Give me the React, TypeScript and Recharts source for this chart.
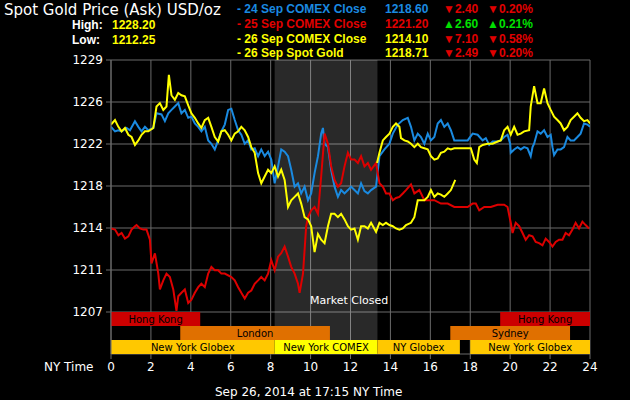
import React from 'react';
import { ComposedChart, Line, XAxis, YAxis, CartesianGrid, ReferenceArea } from 'recharts';

// hours (NY time) and spot price readings, [hour, price]
const sep24: [number, number][] = [
  [0, 1223.4], [0.2, 1223.0], [0.37, 1223.1], [0.53, 1223.0], [0.78, 1223.3], [0.95, 1223.1], [1.2, 1223.9],
  [1.37, 1223.4], [1.53, 1223.0], [1.7, 1223.4], [1.87, 1223.1], [2.12, 1223.3], [2.28, 1224.6], [2.53, 1224.5],
  [2.7, 1223.9], [2.87, 1224.6], [3.03, 1224.9], [3.2, 1225.2], [3.37, 1225.5], [3.53, 1224.6], [3.7, 1224.9],
  [3.87, 1224.2], [4.03, 1224.3], [4.2, 1223.7], [4.37, 1223.4], [4.53, 1223.0], [4.7, 1223.4], [4.87, 1222.2],
  [5.03, 1221.9], [5.2, 1221.4], [5.37, 1222.2], [5.53, 1223.0], [5.7, 1223.6], [5.87, 1224.9], [6.03, 1225.0],
  [6.2, 1224.0], [6.37, 1223.1], [6.53, 1222.7], [6.7, 1221.9], [6.87, 1222.2], [7.03, 1221.4], [7.2, 1221.5],
  [7.37, 1220.8], [7.53, 1221.4], [7.7, 1220.8], [7.87, 1221.2], [8.03, 1220.5], [8.2, 1218.4], [8.37, 1219.9],
  [8.53, 1221.4], [8.7, 1221.2], [8.87, 1220.8], [9.03, 1219.6], [9.2, 1218.1], [9.37, 1218.4], [9.53, 1217.5],
  [9.7, 1218.1], [9.87, 1216.9], [10.03, 1217.5], [10.2, 1219.3], [10.37, 1220.8], [10.53, 1222.8], [10.62, 1223.3],
  [10.7, 1221.9], [10.87, 1221.6], [11.03, 1219.6], [11.2, 1218.1], [11.37, 1217.2], [11.53, 1217.8], [11.7, 1217.5],
  [11.87, 1217.8], [12.03, 1218.1], [12.2, 1217.8], [12.37, 1217.5], [12.53, 1218.4], [12.7, 1217.7], [12.87, 1217.5],
  [13.03, 1217.8], [13.28, 1218.1], [13.45, 1220.8], [13.7, 1221.4], [13.95, 1221.9], [14.12, 1222.8], [14.37, 1223.6],
  [14.62, 1224.0], [14.87, 1224.2], [15.03, 1223.4], [15.2, 1222.2], [15.37, 1222.8], [15.53, 1222.5], [15.7, 1221.9],
  [15.87, 1222.8], [16.03, 1222.2], [16.2, 1222.5], [16.37, 1223.7], [16.53, 1224.0], [16.7, 1223.4], [16.87, 1223.7],
  [17.03, 1223.1], [17.2, 1222.2], [17.53, 1222.2], [17.87, 1222.2], [18.12, 1222.8], [18.37, 1222.7], [18.62, 1222.2],
  [18.78, 1222.4], [18.95, 1221.8], [19.12, 1222.1], [19.37, 1222.1], [19.53, 1222.2], [19.7, 1222.5], [19.87, 1222.7],
  [20.0, 1221.9], [20.03, 1221.1], [20.2, 1221.4], [20.37, 1221.6], [20.53, 1221.4], [20.7, 1221.6], [20.87, 1221.5],
  [21.03, 1220.8], [21.12, 1221.6], [21.2, 1221.9], [21.37, 1223.0], [21.53, 1222.8], [21.7, 1223.1], [21.87, 1222.5],
  [22.03, 1222.7], [22.12, 1221.6], [22.2, 1220.9], [22.37, 1221.4], [22.53, 1221.4], [22.7, 1221.6], [22.87, 1222.5],
  [23.03, 1222.2], [23.2, 1222.2], [23.37, 1222.5], [23.53, 1222.8], [23.7, 1223.7], [23.87, 1223.6], [24, 1223.4],
];

const sep25: [number, number][] = [
  [0, 1214.4], [0.2, 1214.3], [0.37, 1213.8], [0.53, 1214.0], [0.7, 1213.5], [0.87, 1213.7], [1.03, 1214.3],
  [1.2, 1214.6], [1.28, 1214.7], [1.45, 1214.4], [1.62, 1214.3], [1.78, 1214.3], [1.95, 1213.4], [2.03, 1211.3],
  [2.2, 1212.2], [2.37, 1210.4], [2.45, 1209.0], [2.62, 1209.8], [2.78, 1210.4], [2.95, 1210.1], [3.12, 1209.0],
  [3.28, 1207.1], [3.37, 1208.4], [3.53, 1208.7], [3.7, 1209.0], [3.87, 1207.8], [4.03, 1208.1], [4.2, 1208.7],
  [4.37, 1209.2], [4.53, 1209.5], [4.7, 1209.2], [4.87, 1210.4], [5.03, 1211.0], [5.2, 1210.7], [5.37, 1210.7],
  [5.53, 1210.4], [5.7, 1210.4], [6.03, 1210.1], [6.2, 1209.8], [6.37, 1209.2], [6.53, 1208.7], [6.7, 1208.2],
  [6.87, 1208.7], [7.03, 1208.9], [7.2, 1209.5], [7.37, 1209.8], [7.53, 1210.1], [7.7, 1209.8], [7.87, 1210.4],
  [8.03, 1211.6], [8.2, 1210.7], [8.37, 1211.9], [8.53, 1212.2], [8.7, 1212.8], [8.87, 1211.9], [9.03, 1211.0],
  [9.2, 1210.4], [9.37, 1209.5], [9.45, 1208.7], [9.62, 1210.4], [9.78, 1214.6], [9.87, 1215.4], [10.03, 1216.0],
  [10.2, 1216.3], [10.37, 1215.7], [10.53, 1219.0], [10.7, 1222.8], [10.87, 1221.9], [11.03, 1219.9], [11.2, 1218.7],
  [11.37, 1218.1], [11.53, 1218.4], [11.7, 1219.9], [11.87, 1221.1], [12.03, 1220.5], [12.2, 1220.5], [12.37, 1220.2],
  [12.53, 1220.8], [12.7, 1219.9], [12.87, 1220.2], [13.03, 1219.6], [13.28, 1220.2], [13.45, 1218.4], [13.62, 1218.1],
  [13.78, 1217.5], [13.95, 1217.5], [14.12, 1216.9], [14.28, 1217.1], [14.45, 1217.2], [14.62, 1217.5], [14.78, 1217.8],
  [15.03, 1218.3], [15.2, 1217.5], [15.45, 1217.8], [15.7, 1216.9], [15.95, 1216.9], [16.2, 1216.9], [16.53, 1216.6],
  [16.87, 1216.6], [17.2, 1216.3], [17.53, 1216.3], [17.87, 1216.3], [18.12, 1216.6], [18.28, 1216.6], [18.45, 1216.0],
  [18.7, 1216.3], [19.03, 1216.3], [19.37, 1216.5], [19.7, 1216.5], [19.87, 1216.3], [20.03, 1214.9], [20.12, 1214.0],
  [20.28, 1214.9], [20.45, 1214.6], [20.62, 1214.0], [20.78, 1213.4], [20.95, 1213.8], [21.12, 1213.7], [21.28, 1213.2],
  [21.45, 1213.1], [21.62, 1212.9], [21.78, 1213.5], [21.95, 1213.2], [22.12, 1212.8], [22.28, 1213.2], [22.45, 1213.4],
  [22.62, 1213.4], [22.78, 1214.0], [22.95, 1213.8], [23.12, 1214.3], [23.28, 1214.9], [23.45, 1214.4], [23.62, 1215.0],
  [23.78, 1214.7], [23.95, 1214.4],
];

const sep26: [number, number][] = [
  [0, 1223.6], [0.2, 1224.0], [0.37, 1223.4], [0.53, 1223.0], [0.7, 1223.3], [0.87, 1222.7], [1.03, 1222.5],
  [1.2, 1221.8], [1.37, 1222.2], [1.53, 1222.7], [1.7, 1223.0], [1.87, 1223.0], [2.12, 1223.3], [2.28, 1225.2],
  [2.45, 1225.5], [2.62, 1224.9], [2.78, 1225.2], [2.9, 1228.0], [3.03, 1226.2], [3.2, 1225.8], [3.37, 1226.4],
  [3.53, 1226.2], [3.7, 1226.1], [3.87, 1225.3], [4.03, 1224.6], [4.2, 1224.2], [4.37, 1223.7], [4.53, 1223.3],
  [4.7, 1224.0], [4.87, 1224.2], [5.03, 1223.4], [5.2, 1222.5], [5.37, 1222.1], [5.53, 1223.0], [5.7, 1223.1],
  [5.87, 1222.7], [6.03, 1222.2], [6.2, 1222.8], [6.37, 1223.0], [6.53, 1223.4], [6.7, 1223.1], [6.87, 1222.5],
  [7.03, 1221.6], [7.2, 1221.1], [7.37, 1219.3], [7.53, 1218.4], [7.7, 1219.0], [7.87, 1219.6], [8.03, 1219.3],
  [8.2, 1219.9], [8.37, 1219.0], [8.53, 1219.6], [8.7, 1218.7], [8.87, 1216.3], [9.03, 1216.9], [9.2, 1217.2],
  [9.37, 1217.5], [9.53, 1216.6], [9.7, 1215.4], [9.87, 1215.2], [10.03, 1214.6], [10.2, 1212.3], [10.37, 1213.9],
  [10.53, 1213.4], [10.7, 1213.1], [10.87, 1214.6], [11.03, 1215.7], [11.2, 1215.7], [11.37, 1215.4], [11.53, 1215.7],
  [11.7, 1215.2], [11.87, 1214.6], [12.03, 1214.3], [12.2, 1214.4], [12.37, 1213.4], [12.53, 1214.6], [12.7, 1214.6],
  [12.87, 1214.4], [13.03, 1214.9], [13.28, 1214.1], [13.45, 1214.9], [13.62, 1214.7], [13.78, 1214.9], [13.95, 1214.7],
  [14.12, 1214.6], [14.28, 1214.4], [14.45, 1214.3], [14.62, 1214.4], [14.78, 1214.7], [15.03, 1214.9], [15.2, 1215.4],
  [15.37, 1216.9], [15.53, 1216.9], [15.7, 1216.9], [15.87, 1217.2], [16.03, 1217.8], [16.2, 1217.2], [16.37, 1217.5],
  [16.53, 1217.4], [16.7, 1217.2], [16.87, 1217.5], [17.03, 1217.8], [17.25, 1218.7],
];

const sep26Late: [number, number][] = [
  [13.33, 1220.2], [13.45, 1221.1], [13.62, 1222.2], [13.78, 1222.5], [13.95, 1222.8], [14.12, 1223.4], [14.28, 1223.7],
  [14.45, 1223.4], [14.53, 1222.4], [14.7, 1222.2], [14.87, 1222.1], [15.03, 1221.9], [15.2, 1221.6], [15.37, 1221.9],
  [15.53, 1221.6], [15.7, 1221.5], [15.87, 1221.4], [16.03, 1220.8], [16.2, 1220.5], [16.37, 1220.6], [16.53, 1221.1],
  [16.7, 1221.2], [16.87, 1221.5], [17.03, 1221.4], [17.2, 1221.5], [17.53, 1221.5], [17.87, 1221.5], [18.03, 1221.5],
  [18.2, 1220.5], [18.33, 1220.2], [18.45, 1221.6], [18.62, 1221.8], [18.87, 1221.9], [19.12, 1221.9], [19.37, 1222.1],
  [19.53, 1222.2], [19.7, 1223.1], [19.87, 1223.4], [20.03, 1222.7], [20.2, 1223.4], [20.37, 1222.7], [20.53, 1222.8],
  [20.7, 1223.0], [20.95, 1223.1], [21.03, 1225.2], [21.2, 1227.0], [21.37, 1225.5], [21.53, 1225.5], [21.7, 1226.8],
  [21.87, 1225.5], [22.03, 1224.9], [22.2, 1224.3], [22.37, 1224.0], [22.53, 1223.7], [22.7, 1223.1], [22.87, 1223.4],
  [23.03, 1224.0], [23.2, 1224.3], [23.37, 1224.6], [23.53, 1224.2], [23.7, 1223.9], [23.87, 1224.0], [24, 1223.7],
];

const hourTicks = [0, 2, 4, 6, 8, 10, 12, 14, 16, 18, 20, 22, 24];
const priceTicks = [1207, 1210.72, 1214.44, 1218.16, 1221.88, 1225.6, 1229.32];

// trading sessions, hours NY time
const sessions = [
  { name: 'Hong Kong', from: 0, to: 4.47, kind: 'hk' },
  { name: 'Hong Kong', from: 19.5, to: 24, kind: 'hk' },
  { name: 'London', from: 3.47, to: 10.97, kind: 'eu' },
  { name: 'Sydney', from: 17, to: 23, kind: 'eu' },
  { name: 'New York Globex', from: 0, to: 8.2, kind: 'globex' },
  { name: 'New York COMEX', from: 8.2, to: 13.35, kind: 'comex' },
  { name: 'NY Globex', from: 13.35, to: 17.48, kind: 'globex' },
  { name: 'New York Globex', from: 18, to: 24, kind: 'globex' },
];
const closedFrom = 8.2;
const closedTo = 13.35;

const legendRows = [
  { label: '24 Sep COMEX Close', price: '1218.60', chg: '2.40', pct: '0.20%', up: false },
  { label: '25 Sep COMEX Close', price: '1221.20', chg: '2.60', pct: '0.21%', up: true },
  { label: '26 Sep COMEX Close', price: '1214.10', chg: '7.10', pct: '0.58%', up: false },
  { label: '26 Sep Spot Gold', price: '1218.71', chg: '2.49', pct: '0.20%', up: false },
];
const legendColors = ['#1a8ae0', '#e00000', '#ffff00', '#ffff00'];

const BLUE = '#1a8ae0';
const RED = '#dd0000';
const YELLOW = '#ffff00';
const GRID = '#6a6a6a';

const rowStyle: Record<string, { row: number; fill: string }> = {
  hk: { row: 0, fill: '#cc0000' },
  eu: { row: 1, fill: '#e07000' },
  globex: { row: 2, fill: '#ffc800' },
  comex: { row: 2, fill: '#ffff00' },
};

const yMin = 1203.28;
const band = 1.24;
const base = 1207;

const toPts = (arr: [number, number][]) => arr.map(([h, v]) => ({ h, v }));

const font = '"DejaVu Sans", sans-serif';
const boldFont = '"Liberation Sans", Arial, sans-serif';

const T: React.FC<{ x: number; y: number; color: string; size: number; bold?: boolean; f?: string; children: React.ReactNode }> = ({ x, y, color, size, bold, f, children }) => (
  <div
    style={{
      position: 'absolute', left: x, top: y - 10, height: 20, lineHeight: '20px', color, fontSize: size,
      fontWeight: bold ? 'bold' : 'normal', fontFamily: f || font, whiteSpace: 'nowrap',
    }}
  >
    {children}
  </div>
);

export default function App() {
  return (
    <div style={{ position: 'absolute', left: 0, top: 0, width: 630, height: 400, background: '#000', overflow: 'hidden' }}>
      <ComposedChart width={630} height={400} margin={{ top: 60, right: 40, left: 0, bottom: 0 }}>
        <CartesianGrid stroke={GRID} strokeWidth={1} />
        <XAxis
          dataKey="h" type="number" domain={[0, 24]} ticks={hourTicks} height={46}
          axisLine={false} tickLine={{ stroke: GRID }} tickSize={5} tickMargin={3}
          tick={{ fill: '#fff', fontSize: 12, fontFamily: font }} allowDataOverflow
        />
        <YAxis
          type="number" domain={[yMin, 1229.32]} ticks={priceTicks} width={111} allowDataOverflow
          axisLine={{ stroke: GRID }} tickLine={{ stroke: GRID }} tickSize={5} tickMargin={3}
          tickFormatter={(v: number) => String(Math.round(v))}
          tick={{ fill: '#fff', fontSize: 12, fontFamily: font }}
        />
        <ReferenceArea
          x1={closedFrom} x2={closedTo} y1={yMin + band} y2={1229.32}
          fill="#ffffff" fillOpacity={0.16} stroke="none"
        />
        {sessions.map((s, i) => {
          const st = rowStyle[s.kind];
          const top = base - st.row * band;
          return (
            <ReferenceArea
              key={i} x1={s.from} x2={s.to} y1={top - band} y2={top}
              fill={st.fill} fillOpacity={1} stroke="none"
              label={{ value: s.name, position: 'center', fill: '#000', fontSize: 10, fontFamily: font }}
            />
          );
        })}
        <Line data={toPts(sep24)} dataKey="v" stroke={BLUE} strokeWidth={2} dot={false} isAnimationActive={false} />
        <Line data={toPts(sep25)} dataKey="v" stroke={RED} strokeWidth={2} dot={false} isAnimationActive={false} />
        <Line data={toPts(sep26Late)} dataKey="v" stroke={YELLOW} strokeWidth={2} dot={false} isAnimationActive={false} />
        <Line data={toPts(sep26)} dataKey="v" stroke={YELLOW} strokeWidth={2} dot={false} isAnimationActive={false} />
      </ComposedChart>

      <T x={4} y={10} color="#fff" size={15}>Spot Gold Price (Ask) USD/oz</T>
      <T x={72} y={25} color="#fff" size={12} bold f={boldFont}>High:</T>
      <T x={112} y={25} color={YELLOW} size={12} bold f={boldFont}>1228.20</T>
      <T x={72} y={40} color="#fff" size={12} bold f={boldFont}>Low:</T>
      <T x={112} y={40} color={YELLOW} size={12} bold f={boldFont}>1212.25</T>
      {legendRows.map((r, i) => {
        const y = 9 + i * 14.8;
        const chgColor = r.up ? '#00e000' : '#e00000';
        const arrow = r.up ? '\u25B2' : '\u25BC';
        return (
          <React.Fragment key={i}>
            <T x={237} y={y} color={legendColors[i]} size={12} bold f={boldFont}>- {r.label}</T>
            <T x={385} y={y} color={legendColors[i]} size={12} bold f={boldFont}>{r.price}</T>
            <T x={443} y={y} color={chgColor} size={12} bold f={boldFont}>{arrow}{r.chg}</T>
            <T x={487} y={y} color={chgColor} size={12} bold f={boldFont}>{arrow}{r.pct}</T>
          </React.Fragment>
        );
      })}
      <T x={310} y={301} color="#fff" size={11}>Market Closed</T>
      <T x={44} y={367} color="#fff" size={12}>NY Time</T>
      <T x={215} y={392} color="#fff" size={12}>Sep 26, 2014 at 17:15 NY Time</T>
    </div>
  );
}
